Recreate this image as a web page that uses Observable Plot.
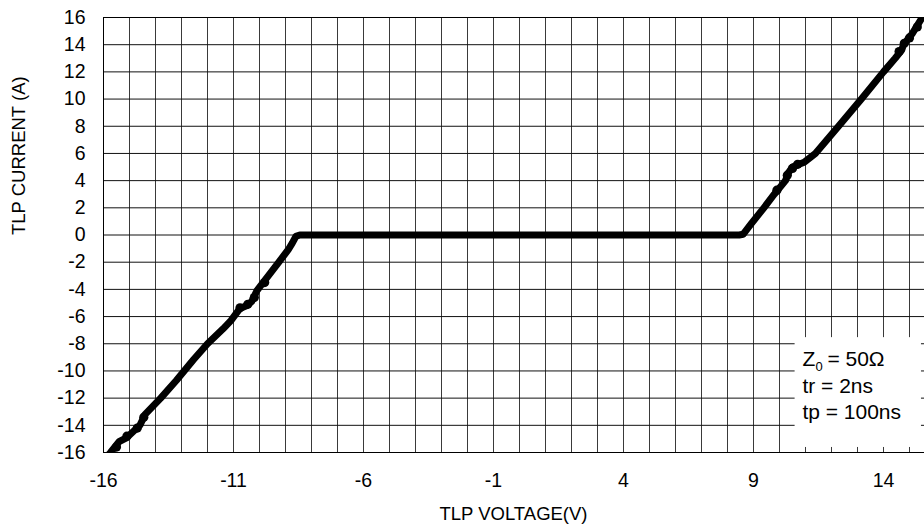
<!DOCTYPE html>
<html>
<head>
<meta charset="utf-8">
<script src="https://cdn.jsdelivr.net/npm/d3@7"></script>
<script src="https://cdn.jsdelivr.net/npm/@observablehq/plot@0.6"></script>
<style>
  html, body { margin: 0; padding: 0; background: #fff; overflow: hidden; }
  #chart { width: 924px; height: 524px; overflow: hidden; }
  #chart svg { max-width: none !important; width: 936px !important; height: 524px !important; font-family: "Liberation Sans", Arial, sans-serif; }
</style>
</head>
<body>
<div id="chart"></div>
<script>
// ---- data ----
const voltage = [
  -15.82, -15.73, -15.4, -15.1, -14.6, -14.4, -13.8, -13.2, -12.55, -12.0,
  -11.4, -11.1, -10.75, -10.5, -10.3, -10.1, -9.7, -9.3, -8.9, -8.74, -8.6, -8.45,
  -4.0, 0.0, 4.0,
  8.45, 8.6, 8.9, 9.4, 9.8, 10.23, 10.35, 10.5, 10.75, 10.95, 11.38,
  12.27, 13.15, 14.0, 14.45, 14.7, 14.77, 15.1, 15.49, 15.6
];
const current = [
  -16.2, -16.0, -15.2, -14.9, -14.0, -13.2, -12.0, -10.7, -9.2, -8.0,
  -6.9, -6.3, -5.4, -5.2, -4.9, -4.1, -3.1, -2.1, -1.1, -0.6, -0.1, 0.0,
  0.0, 0.0, 0.0,
  0.0, 0.05, 0.8, 2.0, 3.0, 4.0, 4.6, 5.0, 5.2, 5.35, 6.0,
  8.0, 10.0, 12.0, 13.0, 13.6, 14.0, 14.8, 16.0, 16.3
];
// thicker blobs along the trace
const blobV = [-15.5, -15.1, -14.7, -14.45, -10.75, -10.45, -10.2, -9.8, 10.3, 10.5, 10.7, 9.9, 14.6, 14.8, 15.0, 15.3];
const blobI = [-15.6, -14.8, -14.2, -13.4, -5.35, -5.1, -4.6, -3.5, 4.4, 4.9, 5.2, 3.3, 13.5, 14.1, 14.5, 15.3];

const xTicks = [-16, -11, -6, -1, 4, 9, 14];
const yTicks = [16, 14, 12, 10, 8, 6, 4, 2, 0, -2, -4, -6, -8, -10, -12, -14, -16];
const xGrid = d3.range(-16, 17, 1);
const yGrid = d3.range(-16, 17, 2);

const noteLines = ["tr = 2ns", "tp = 100ns"];
const noteLineI = [-11.6, -13.5];
const noteBox = {x1: 10.6, x2: 15.46, y1: -15.63, y2: -7.55};
const noteX = 10.88;
const noteZI = -9.6;

const xLabel = "TLP VOLTAGE(V)";
const yLabel = "TLP CURRENT (A)";

// ---- build ----
const trace = voltage.map((v, i) => ({v, i: current[i]}));
const blobs = blobV.map((v, i) => ({v, i: blobI[i]}));
const notes = noteLines.map((t, k) => ({t, y: noteLineI[k]}));

const chart = Plot.plot({
  width: 936,
  height: 524,
  marginTop: 17,
  marginBottom: 72,
  marginLeft: 103,
  marginRight: 1,
  style: {fontFamily: '"Liberation Sans", Arial, sans-serif', background: "#fff", color: "#000"},
  x: {domain: [-16, 16], label: null},
  y: {domain: [-16, 16], label: null},
  marks: [
    Plot.ruleX(xGrid, {stroke: "#3a3a3a", strokeWidth: 1}),
    Plot.ruleY(yGrid, {stroke: "#111", strokeWidth: 1}),
    Plot.rect([noteBox], {x1: "x1", x2: "x2", y1: "y1", y2: "y2", fill: "#fff"}),
    Plot.frame({stroke: "#000", strokeWidth: 1}),
    Plot.axisX(xTicks, {tickSize: 0, tickPadding: 21, fontSize: 19.5, tickFormat: d => String(d), label: null}),
    Plot.axisY(yTicks, {tickSize: 0, tickPadding: 18, fontSize: 19.5, tickFormat: d => String(d), label: null}),
    Plot.line(trace, {x: "v", y: "i", stroke: "#000", strokeWidth: 7, strokeLinejoin: "round", strokeLinecap: "round", clip: true}),
    Plot.dot(blobs, {x: "v", y: "i", r: 4.6, fill: "#000", stroke: "none", clip: true}),
    Plot.text(["Z"], {x: () => noteX, y: () => noteZI, text: d => d, textAnchor: "start", lineAnchor: "bottom", fontSize: 21}),
    Plot.text(["0"], {x: () => noteX, y: () => noteZI, text: d => d, textAnchor: "start", lineAnchor: "bottom", fontSize: 13, dx: 13, dy: 5}),
    Plot.text(["= 50\u03A9"], {x: () => noteX, y: () => noteZI, text: d => d, textAnchor: "start", lineAnchor: "bottom", fontSize: 21, dx: 25}),
    Plot.text(notes, {x: () => noteX, y: "y", text: "t", textAnchor: "start", lineAnchor: "bottom", fontSize: 21}),
    Plot.text([xLabel], {frameAnchor: "bottom", text: d => d, dy: 62, dx: -6, fontSize: 18.5, lineAnchor: "middle"}),
    Plot.text([yLabel], {frameAnchor: "left", text: d => d, dx: -84, rotate: -90, fontSize: 18.5, lineAnchor: "middle"})
  ]
});
document.getElementById("chart").appendChild(chart);
</script>
</body>
</html>
